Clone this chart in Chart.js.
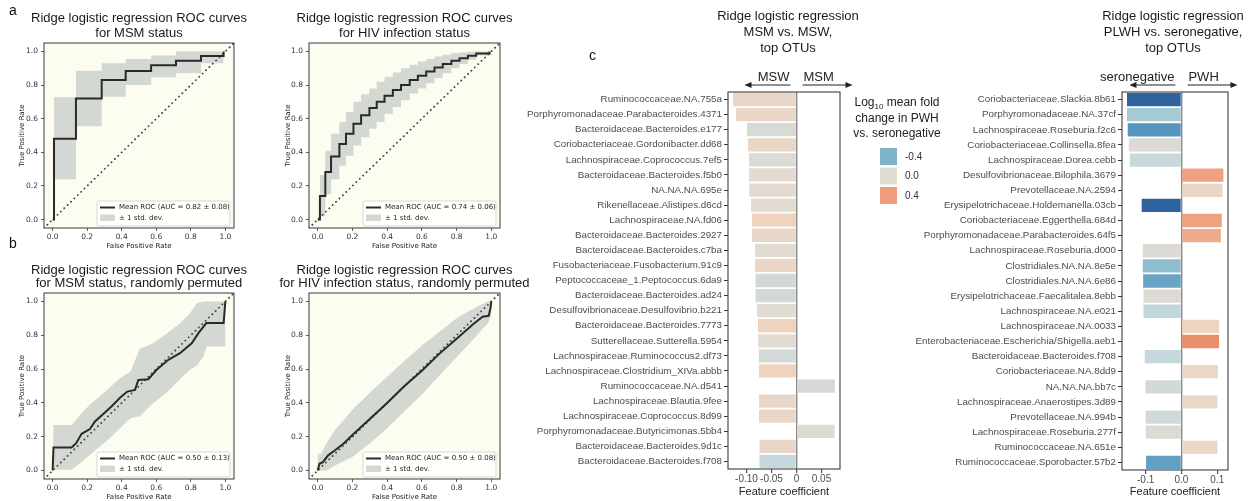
<!DOCTYPE html>
<html>
<head>
<meta charset="utf-8">
<script src="https://cdn.jsdelivr.net/npm/chart.js@4.4.1/dist/chart.umd.min.js"></script>
<style>
  html, body { margin: 0; padding: 0; background: #fff; }
  #fig { position: relative; width: 1251px; height: 501px; overflow: hidden; font-family: "Liberation Sans", Arial, sans-serif; }
  #fig canvas { position: absolute; }
  .tag { position: absolute; font-size: 14px; line-height: 1; color: #111; }
</style>
</head>
<body>
<div id="fig">
  <canvas id="rocMsm" width="250" height="250" style="left:0;top:0"></canvas>
  <canvas id="rocHiv" width="290" height="250" style="left:265px;top:0"></canvas>
  <canvas id="rocMsmPerm" width="250" height="251" style="left:0;top:250px"></canvas>
  <canvas id="rocHivPerm" width="290" height="251" style="left:265px;top:250px"></canvas>
  <canvas id="otuMsm" width="370" height="501" style="left:490px;top:0"></canvas>
  <canvas id="otuHiv" width="406" height="501" style="left:845px;top:0"></canvas>
  <div class="tag" style="left:9px;top:3px">a</div>
  <div class="tag" style="left:9px;top:236px">b</div>
  <div class="tag" style="left:589px;top:48px">c</div>
</div>
<script>
// ---- ROC data ----
const rocTicks = [0, 0.2, 0.4, 0.6, 0.8, 1.0];
const diagX = [-0.05, 1.05];
const aucMean = [0.82, 0.74, 0.50, 0.50];
const aucSd = [0.08, 0.06, 0.13, 0.08];

// MSM status (step curve)
const fprMsm = [0, 0.008, 0.135, 0.284, 0.423, 0.57, 0.714, 0.859, 0.99];
const tprMsm = [0, 0.48, 0.72, 0.83, 0.883, 0.917, 0.945, 0.972, 1.0];
const upperMsm = [0, 0.727, 0.885, 0.93, 0.955, 0.975, 1.0, 1.0, 1.0];
const lowerMsm = [0, 0.24, 0.555, 0.73, 0.80, 0.846, 0.87, 0.93, 1.0];

// HIV infection status (step curve)
const fprHiv = [0, 0.013, 0.044, 0.077, 0.125, 0.163, 0.206, 0.25, 0.298, 0.34, 0.385, 0.433, 0.48, 0.53, 0.577, 0.625, 0.673, 0.72, 0.77, 0.817, 0.865, 0.913, 0.99];
const tprHiv = [0, 0.14, 0.283, 0.375, 0.45, 0.51, 0.57, 0.62, 0.664, 0.70, 0.737, 0.77, 0.80, 0.83, 0.856, 0.88, 0.905, 0.925, 0.945, 0.96, 0.974, 0.988, 1.0];
const upperHiv = [0, 0.265, 0.41, 0.51, 0.58, 0.64, 0.70, 0.745, 0.78, 0.82, 0.85, 0.875, 0.90, 0.92, 0.94, 0.955, 0.97, 0.98, 0.99, 0.995, 1.0, 1.0, 1.0];
const lowerHiv = [0, 0.02, 0.15, 0.24, 0.32, 0.38, 0.44, 0.49, 0.54, 0.58, 0.63, 0.67, 0.71, 0.75, 0.78, 0.81, 0.84, 0.87, 0.90, 0.925, 0.95, 0.975, 1.0];

// MSM status, permuted
const fprMsmPerm = [0, 0.005, 0.11, 0.135, 0.168, 0.216, 0.245, 0.293, 0.342, 0.39, 0.432, 0.477, 0.496, 0.554, 0.602, 0.67, 0.737, 0.805, 0.844, 0.89, 0.99, 1.0];
const tprMsmPerm = [0, 0.136, 0.136, 0.16, 0.217, 0.245, 0.29, 0.335, 0.38, 0.43, 0.467, 0.477, 0.536, 0.54, 0.596, 0.655, 0.694, 0.753, 0.813, 0.872, 0.872, 1.0];
const bandXMsmPerm = [0, 0.005, 0.11, 0.16, 0.216, 0.274, 0.34, 0.39, 0.45, 0.496, 0.506, 0.583, 0.66, 0.737, 0.795, 0.834, 0.873, 0.892, 0.99, 1.0];
const upperMsmPerm = [0, 0.27, 0.27, 0.33, 0.39, 0.44, 0.50, 0.546, 0.585, 0.70, 0.72, 0.753, 0.81, 0.87, 0.93, 0.99, 1.0, 1.0, 1.0, 1.0];
const lowerMsmPerm = [0, 0.004, 0.004, 0.043, 0.093, 0.142, 0.20, 0.25, 0.31, 0.32, 0.323, 0.40, 0.46, 0.54, 0.596, 0.62, 0.675, 0.734, 0.734, 0.734];

// HIV infection status, permuted
const fprHivPerm = [0, 0.01, 0.03, 0.06, 0.1, 0.15, 0.2, 0.3, 0.4, 0.5, 0.6, 0.7, 0.8, 0.9, 0.95, 0.985, 0.995, 1.0];
const tprHivPerm = [0, 0.04, 0.05, 0.09, 0.12, 0.16, 0.21, 0.305, 0.40, 0.50, 0.59, 0.69, 0.78, 0.87, 0.91, 0.915, 0.96, 1.0];
const bandXHivPerm = [0, 0.02, 0.05, 0.1, 0.2, 0.3, 0.4, 0.5, 0.6, 0.7, 0.8, 0.9, 0.95, 0.98, 1.0];
const upperHivPerm = [0.1, 0.1, 0.16, 0.24, 0.36, 0.46, 0.555, 0.65, 0.74, 0.82, 0.9, 0.96, 0.985, 1.0, 1.0];
const lowerHivPerm = [0, 0, 0, 0.03, 0.08, 0.16, 0.25, 0.35, 0.45, 0.56, 0.67, 0.78, 0.84, 0.87, 0.92];

// ---- top OTU data ----
const otuMsm = ['Ruminococcaceae.NA.755a', 'Porphyromonadaceae.Parabacteroides.4371', 'Bacteroidaceae.Bacteroides.e177',
  'Coriobacteriaceae.Gordonibacter.dd68', 'Lachnospiraceae.Coprococcus.7ef5', 'Bacteroidaceae.Bacteroides.f5b0',
  'NA.NA.NA.695e', 'Rikenellaceae.Alistipes.d6cd', 'Lachnospiraceae.NA.fd06', 'Bacteroidaceae.Bacteroides.2927',
  'Bacteroidaceae.Bacteroides.c7ba', 'Fusobacteriaceae.Fusobacterium.91c9', 'Peptococcaceae_1.Peptococcus.6da9',
  'Bacteroidaceae.Bacteroides.ad24', 'Desulfovibrionaceae.Desulfovibrio.b221', 'Bacteroidaceae.Bacteroides.7773',
  'Sutterellaceae.Sutterella.5954', 'Lachnospiraceae.Ruminococcus2.df73', 'Lachnospiraceae.Clostridium_XIVa.abbb',
  'Ruminococcaceae.NA.d541', 'Lachnospiraceae.Blautia.9fee', 'Lachnospiraceae.Coprococcus.8d99',
  'Porphyromonadaceae.Butyricimonas.5bb4', 'Bacteroidaceae.Bacteroides.9d1c', 'Bacteroidaceae.Bacteroides.f708'];
const coefMsm = [-0.127, -0.121, -0.099, -0.097, -0.095, -0.095, -0.0945, -0.091, -0.089, -0.089, -0.083, -0.083, -0.082,
  -0.082, -0.079, -0.077, -0.077, -0.0753, -0.075, 0.0767, -0.075, -0.075, 0.076, -0.074, -0.074];
const foldMsm = [0.08, 0.08, -0.06, 0.09, -0.04, 0.01, 0.02, 0.0, 0.14, 0.06, 0.0, 0.08, -0.1, -0.1, 0.0, 0.13, 0.0,
  -0.09, 0.13, -0.08, 0.06, 0.06, -0.03, 0.06, -0.17];
const coefTicksMsm = [-0.10, -0.05, 0, 0.05];

const otuHiv = ['Coriobacteriaceae.Slackia.8b61', 'Porphyromonadaceae.NA.37cf', 'Lachnospiraceae.Roseburia.f2c6',
  'Coriobacteriaceae.Collinsella.8fea', 'Lachnospiraceae.Dorea.cebb', 'Desulfovibrionaceae.Bilophila.3679',
  'Prevotellaceae.NA.2594', 'Erysipelotrichaceae.Holdemanella.03cb', 'Coriobacteriaceae.Eggerthella.684d',
  'Porphyromonadaceae.Parabacteroides.64f5', 'Lachnospiraceae.Roseburia.d000', 'Clostridiales.NA.NA.8e5e',
  'Clostridiales.NA.NA.6e86', 'Erysipelotrichaceae.Faecalitalea.8ebb', 'Lachnospiraceae.NA.e021',
  'Lachnospiraceae.NA.0033', 'Enterobacteriaceae.Escherichia/Shigella.aeb1', 'Bacteroidaceae.Bacteroides.f708',
  'Coriobacteriaceae.NA.8dd9', 'NA.NA.NA.bb7c', 'Lachnospiraceae.Anaerostipes.3d89', 'Prevotellaceae.NA.994b',
  'Lachnospiraceae.Roseburia.277f', 'Ruminococcaceae.NA.651e', 'Ruminococcaceae.Sporobacter.57b2'];
const coefHiv = [-0.152, -0.152, -0.150, -0.147, -0.144, 0.117, 0.115, -0.111, 0.1126, 0.110, -0.108, -0.108, -0.107,
  -0.106, -0.106, 0.105, 0.105, -0.1025, 0.102, -0.1006, 0.1006, -0.0999, -0.0999, 0.1006, -0.0989];
const foldHiv = [-0.78, -0.28, -0.55, -0.04, -0.15, 0.38, 0.06, -0.78, 0.38, 0.34, -0.04, -0.35, -0.48, -0.03, -0.2,
  0.12, 0.5, -0.17, 0.07, -0.1, 0.07, -0.1, -0.04, 0.07, -0.5];
const coefTicksHiv = [-0.1, 0, 0.1];

const foldKey = [-0.4, 0.0, 0.4];

// ---- styling helpers ----
const SANS = '"Liberation Sans", Arial, sans-serif';
const DEJAVU = '"DejaVu Sans", sans-serif';
const BAND = '#d3d8d2';
const foldStops = [
  [-0.8, [44, 95, 155]], [-0.55, [84, 150, 190]], [-0.4, [127, 179, 201]], [-0.2, [192, 215, 222]],
  [0, [226, 219, 210]], [0.15, [240, 210, 188]], [0.4, [238, 158, 125]], [0.6, [226, 128, 95]]
];
function foldColor(v) {
  if (v <= foldStops[0][0]) return `rgb(${foldStops[0][1].join(',')})`;
  for (let i = 1; i < foldStops.length; i++) {
    const [x1, c1] = foldStops[i];
    if (v <= x1) {
      const [x0, c0] = foldStops[i - 1];
      const t = (v - x0) / (x1 - x0);
      return `rgb(${c0.map((c, k) => Math.round(c + t * (c1[k] - c))).join(',')})`;
    }
  }
  return `rgb(${foldStops[foldStops.length - 1][1].join(',')})`;
}
const pts = (xs, ys) => xs.map((x, i) => ({ x: x, y: ys[i] }));

// ---- plugins ----
const panelTitle = {
  id: 'panelTitle',
  afterDraw(chart, args, o) {
    const { ctx, chartArea } = chart;
    const cx = (chartArea.left + chartArea.right) / 2 + (o.dx || 0);
    ctx.save();
    ctx.font = `${o.size}px ${SANS}`;
    ctx.fillStyle = '#1a1a1a';
    ctx.textAlign = 'center';
    ctx.textBaseline = 'middle';
    o.lines.forEach((t, i) => ctx.fillText(t, cx, o.y0 + i * o.gap));
    ctx.restore();
  }
};

const panelBox = {
  id: 'panelBox',
  beforeDraw(chart, args, o) {
    if (!o.bg) return;
    const { ctx, chartArea: a } = chart;
    ctx.save();
    ctx.fillStyle = o.bg;
    ctx.fillRect(a.left, a.top, a.right - a.left, a.bottom - a.top);
    ctx.restore();
  },
  afterDatasetsDraw(chart, args, o) {
    const { ctx, chartArea: a } = chart;
    ctx.save();
    ctx.strokeStyle = o.color;
    ctx.lineWidth = o.width;
    ctx.strokeRect(a.left, a.top, a.right - a.left, a.bottom - a.top);
    ctx.restore();
  }
};

const rocLegend = {
  id: 'rocLegend',
  afterDraw(chart, args, o) {
    const { ctx, chartArea: a } = chart;
    const w = 133, h = 25;
    const x = a.right - 4 - w, y = a.bottom - 2 - h;
    ctx.save();
    ctx.fillStyle = 'rgba(255,255,255,0.8)';
    ctx.strokeStyle = '#cfcfcf';
    ctx.lineWidth = 0.8;
    ctx.beginPath();
    ctx.roundRect(x, y, w, h, 2);
    ctx.fill();
    ctx.stroke();
    ctx.strokeStyle = '#2a2a2a';
    ctx.lineWidth = 2;
    ctx.beginPath();
    ctx.moveTo(x + 3, y + 6.5);
    ctx.lineTo(x + 18, y + 6.5);
    ctx.stroke();
    ctx.fillStyle = BAND;
    ctx.fillRect(x + 3, y + 13.5, 15, 6.5);
    ctx.fillStyle = '#222';
    ctx.font = `7px ${DEJAVU}`;
    ctx.textBaseline = 'middle';
    ctx.fillText(o.text, x + 22, y + 6.5);
    ctx.fillText('\u00b1 1 std. dev.', x + 22, y + 17);
    ctx.restore();
  }
};

function arrow(ctx, x0, x1, y) {
  const d = Math.sign(x1 - x0);
  ctx.beginPath();
  ctx.moveTo(x0, y);
  ctx.lineTo(x1 - d * 5, y);
  ctx.stroke();
  ctx.beginPath();
  ctx.moveTo(x1, y);
  ctx.lineTo(x1 - d * 7, y - 3);
  ctx.lineTo(x1 - d * 7, y + 3);
  ctx.closePath();
  ctx.fill();
}

const sideArrows = {
  id: 'sideArrows',
  afterDraw(chart, args, o) {
    const { ctx, chartArea } = chart;
    const z = chart.scales.x.getPixelForValue(0);
    const yT = chartArea.top - 15, yA = chartArea.top - 7;
    ctx.save();
    ctx.font = `13px ${SANS}`;
    ctx.fillStyle = '#222';
    ctx.strokeStyle = '#222';
    ctx.lineWidth = 1;
    ctx.textBaseline = 'middle';
    ctx.textAlign = 'right';
    ctx.fillText(o.left, z - 7, yT);
    ctx.textAlign = 'left';
    ctx.fillText(o.right, z + 7, yT);
    arrow(ctx, z - 6, z - 52, yA);
    arrow(ctx, z + 6, z + 56, yA);
    ctx.restore();
  }
};

const foldLegend = {
  id: 'foldLegend',
  afterDraw(chart, args, o) {
    if (!o.show) return;
    const ctx = chart.ctx;
    ctx.save();
    ctx.fillStyle = '#222';
    ctx.textBaseline = 'middle';
    // title line 1 with subscript
    const big = `12px ${SANS}`, small = `8px ${SANS}`;
    ctx.font = big; const wLog = ctx.measureText('Log').width; const wRest = ctx.measureText(' mean fold').width;
    ctx.font = small; const wSub = ctx.measureText('10').width;
    let x = o.cx - (wLog + wSub + wRest) / 2;
    ctx.textAlign = 'left';
    ctx.font = big; ctx.fillText('Log', x, o.y0); x += wLog;
    ctx.font = small; ctx.fillText('10', x, o.y0 + 4); x += wSub;
    ctx.font = big; ctx.fillText(' mean fold', x, o.y0);
    ctx.textAlign = 'center';
    ctx.fillText('change in PWH', o.cx, o.y0 + 15.5);
    ctx.fillText('vs. seronegative', o.cx, o.y0 + 31);
    ctx.font = `10px ${SANS}`;
    ctx.textAlign = 'left';
    foldKey.forEach((v, i) => {
      const yy = o.sy + i * 19.5;
      ctx.fillStyle = foldColor(v);
      ctx.fillRect(o.sx, yy, 17, 17);
      ctx.fillStyle = '#333';
      ctx.fillText(v.toFixed(1), o.sx + 25, yy + 9);
    });
    ctx.restore();
  }
};

// ---- chart builders ----
function rocChart(id, c) {
  const step = c.stepped ? 'before' : false;
  return new Chart(document.getElementById(id), {
    type: 'line',
    data: {
      datasets: [
        { data: pts(c.meanX, c.mean), borderColor: '#2a2a2a', borderWidth: 2, pointRadius: 0, stepped: step, fill: false },
        { data: pts(diagX, diagX), borderColor: '#444', borderWidth: 1.9, borderDash: [0.01, 4.7], borderCapStyle: 'round', pointRadius: 0, fill: false },
        { data: pts(c.bandX, c.upper), borderColor: 'rgba(0,0,0,0)', backgroundColor: BAND, borderWidth: 1, pointRadius: 0, stepped: step, fill: '+1' },
        { data: pts(c.bandX, c.lower), borderColor: 'rgba(0,0,0,0)', borderWidth: 1, pointRadius: 0, stepped: step, fill: false }
      ]
    },
    options: {
      responsive: false, animation: false, devicePixelRatio: 1, events: [],
      layout: { padding: { top: 43, right: c.right, left: 0, bottom: 0 } },
      scales: {
        x: {
          type: 'linear', min: -0.05, max: 1.05,
          afterBuildTicks: ax => { ax.ticks = rocTicks.map(v => ({ value: v })); },
          afterFit: ax => { ax.height = 22; },
          grid: { drawOnChartArea: false, drawTicks: true, tickLength: 3, tickColor: '#333', tickWidth: 0.8 },
          border: { display: false },
          ticks: { font: { family: DEJAVU, size: 7.5 }, color: '#333', padding: 2, maxRotation: 0, callback: v => v.toFixed(1) },
          title: { display: true, text: 'False Positive Rate', font: { family: DEJAVU, size: 7 }, color: '#222', padding: { top: 0, bottom: 0 } }
        },
        y: {
          type: 'linear', min: -0.05, max: 1.05,
          afterBuildTicks: ax => { ax.ticks = rocTicks.map(v => ({ value: v })); },
          afterFit: ax => { ax.width = 44; },
          grid: { drawOnChartArea: false, drawTicks: true, tickLength: 3, tickColor: '#333', tickWidth: 0.8 },
          border: { display: false },
          ticks: { font: { family: DEJAVU, size: 7.5 }, color: '#333', padding: 3, callback: v => v.toFixed(1) },
          title: { display: true, text: 'True Positive Rate', font: { family: DEJAVU, size: 7 }, color: '#222', padding: { top: c.yTitle, bottom: 0 } }
        }
      },
      plugins: {
        legend: { display: false }, tooltip: { enabled: false },
        panelBox: { bg: '#fcfcf1', color: '#3a3a3a', width: 1 },
        panelTitle: { lines: c.title, y0: c.ty, gap: c.tgap, size: 13 },
        rocLegend: { text: `Mean ROC (AUC = ${aucMean[c.k].toFixed(2)} \u00b1 ${aucSd[c.k].toFixed(2)})` }
      }
    },
    plugins: [panelBox, panelTitle, rocLegend]
  });
}

function otuChart(id, c) {
  return new Chart(document.getElementById(id), {
    type: 'bar',
    data: {
      labels: c.labels,
      datasets: [{ data: c.coef, backgroundColor: c.fold.map(foldColor), borderWidth: 0, barPercentage: 0.88, categoryPercentage: 1 }]
    },
    options: {
      indexAxis: 'y', responsive: false, animation: false, devicePixelRatio: 1, events: [],
      layout: { padding: { top: 92, right: c.right, left: 0, bottom: 0 } },
      scales: {
        y: {
          type: 'category',
          afterFit: ax => { ax.width = c.axisW; },
          grid: { display: true, drawOnChartArea: false, offset: false, tickLength: 4, tickColor: '#333', tickWidth: 1 },
          border: { display: false },
          ticks: { font: { family: SANS, size: 9.8 }, color: '#4d4d4d', padding: 2, autoSkip: false }
        },
        x: {
          type: 'linear', min: c.min, max: c.max,
          afterBuildTicks: ax => { ax.ticks = c.ticks.map(v => ({ value: v })); },
          afterFit: ax => { ax.height = c.axisH; },
          grid: { color: g => (g.tick && g.tick.value === 0 ? '#8a8a8a' : 'rgba(0,0,0,0)'), lineWidth: 1.4, tickColor: '#333', tickWidth: 1, tickLength: 4 },
          border: { display: false },
          ticks: { font: { family: SANS, size: 10 }, color: '#4d4d4d', padding: 0, maxRotation: 0, callback: c.fmt },
          title: { display: true, text: 'Feature coefficient', font: { family: SANS, size: 11 }, color: '#222', padding: { top: 0, bottom: 2 } }
        }
      },
      plugins: {
        legend: { display: false }, tooltip: { enabled: false },
        panelBox: { color: '#4d4d4d', width: 1.2 },
        panelTitle: { lines: c.title, y0: 16, gap: 16.2, size: 13, dx: c.dx },
        sideArrows: { left: c.sides[0], right: c.sides[1] },
        foldLegend: c.legend || { show: false }
      }
    },
    plugins: [panelBox, panelTitle, sideArrows, foldLegend]
  });
}

rocChart('rocMsm', { k: 0, stepped: true, meanX: fprMsm, mean: tprMsm, bandX: fprMsm, upper: upperMsm, lower: lowerMsm,
  right: 16, yTitle: 17.8, ty: 18.5, tgap: 15, title: ['Ridge logistic regression ROC curves', 'for MSM status'] });
rocChart('rocHiv', { k: 1, stepped: true, meanX: fprHiv, mean: tprHiv, bandX: fprHiv, upper: upperHiv, lower: lowerHiv,
  right: 55, yTitle: 19, ty: 18.5, tgap: 15, title: ['Ridge logistic regression ROC curves', 'for HIV infection status'] });
rocChart('rocMsmPerm', { k: 2, stepped: false, meanX: fprMsmPerm, mean: tprMsmPerm, bandX: bandXMsmPerm, upper: upperMsmPerm, lower: lowerMsmPerm,
  right: 16, yTitle: 17.8, ty: 20, tgap: 13.5, title: ['Ridge logistic regression ROC curves', 'for MSM status, randomly permuted'] });
rocChart('rocHivPerm', { k: 3, stepped: false, meanX: fprHivPerm, mean: tprHivPerm, bandX: bandXHivPerm, upper: upperHivPerm, lower: lowerHivPerm,
  right: 55, yTitle: 19, ty: 20, tgap: 13.5, title: ['Ridge logistic regression ROC curves', 'for HIV infection status, randomly permuted'] });

otuChart('otuMsm', { labels: otuMsm, coef: coefMsm, fold: foldMsm, ticks: coefTicksMsm, min: -0.137, max: 0.087,
  fmt: v => (v === 0 ? '0' : v.toFixed(2)), axisW: 238, axisH: 32, right: 20, dx: 4,
  title: ['Ridge logistic regression', 'MSM vs. MSW,', 'top OTUs'], sides: ['MSW', 'MSM'] });
otuChart('otuHiv', { labels: otuHiv, coef: coefHiv, fold: foldHiv, ticks: coefTicksHiv, min: -0.166, max: 0.130,
  fmt: v => v.toFixed(1), axisW: 277, axisH: 31, right: 23, dx: -2,
  title: ['Ridge logistic regression', 'PLWH vs. seronegative,', 'top OTUs'], sides: ['seronegative', 'PWH'],
  legend: { show: true, cx: 52, y0: 103, sx: 35, sy: 148 } });
</script>
</body>
</html>
